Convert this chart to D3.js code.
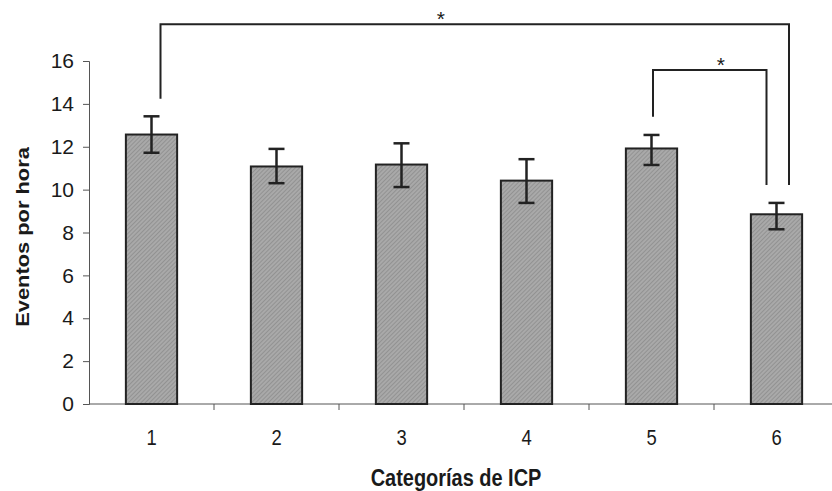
<!DOCTYPE html>
<html>
<head>
<meta charset="utf-8">
<script src="https://cdn.jsdelivr.net/npm/d3@7"></script>
<style>
  html, body { margin: 0; padding: 0; background: #fff; }
  svg { display: block; }
  text { font-family: Arial, "Liberation Sans", sans-serif; fill: #1a1a1a; }
</style>
</head>
<body>
<svg id="chart" width="832" height="491"></svg>
<script>
// ---- data ----
const categories = ["1", "2", "3", "4", "5", "6"];
const means      = [12.57, 11.08, 11.17, 10.42, 11.92, 8.85];
const errLow     = [11.72, 10.30, 10.12, 9.38, 11.15, 8.15];
const errHigh    = [13.42, 11.90, 12.16, 11.42, 12.55, 9.38];
const yTicks     = [0, 2, 4, 6, 8, 10, 12, 14, 16];
const bracketFrom   = ["1", "5"];
const bracketTo     = ["6", "6"];
const bracketTop    = [17.72, 15.58];
const bracketLeftEnd  = [14.24, 13.40];
const bracketRightEnd = [10.21, 10.21];
const bracketLabel  = ["*", "*"];
const xTitle = "Categorías de ICP";
const yTitle = "Eventos por hora";

// ---- layout ----
const svg = d3.select("#chart");
const left = 89, bandW = 125;
const x = d3.scaleBand().domain(categories)
  .range([left, left + bandW * categories.length]).paddingInner(0.59).paddingOuter(0.295);
const y = d3.scaleLinear().domain([0, 16]).range([404, 61]);

// texture pattern for bars
const defs = svg.append("defs");
const pat = defs.append("pattern").attr("id", "tex")
  .attr("patternUnits", "userSpaceOnUse").attr("width", 3).attr("height", 3)
  .attr("patternTransform", "rotate(45)");
pat.append("rect").attr("width", 3).attr("height", 3).attr("fill", "#a9a9a9");
pat.append("rect").attr("width", 1).attr("height", 3).attr("fill", "#929292");

// y axis
const yAxis = svg.append("g").attr("transform", `translate(${left},0)`)
  .call(d3.axisLeft(y).tickValues(yTicks).tickSize(6).tickPadding(9).tickFormat(d3.format("d")));
yAxis.attr("font-size", null).attr("font-family", null);
yAxis.select(".domain").attr("stroke", "#555").attr("stroke-width", 1);
yAxis.selectAll(".tick line").attr("stroke", "#555");
yAxis.selectAll(".tick text").attr("font-size", 21).attr("fill", "#1a1a1a")
  .attr("font-family", "Arial, 'Liberation Sans', sans-serif");

// x axis
const xAxisG = svg.append("g").attr("transform", `translate(0,${y(0)})`);
xAxisG.append("line").attr("x1", left).attr("x2", 832).attr("y1", 0).attr("y2", 0)
  .attr("stroke", "#555").attr("stroke-width", 1);
xAxisG.selectAll("line.tk").data(categories.slice(1)).join("line").attr("class", "tk")
  .attr("x1", d => x(d) - x.step() * x.paddingInner() / 2)
  .attr("x2", d => x(d) - x.step() * x.paddingInner() / 2)
  .attr("y1", 0).attr("y2", 6).attr("stroke", "#555");
xAxisG.selectAll("text.lbl").data(categories).join("text").attr("class", "lbl")
  .attr("transform", d => `translate(${x(d) + x.bandwidth() / 2},41) scale(0.92,1.1)`)
  .attr("text-anchor", "middle").attr("font-size", 20)
  .text(d => d);

// bars
const rows = categories.map((c, i) => ({ c, v: means[i], lo: errLow[i], hi: errHigh[i] }));
svg.append("g").selectAll("rect").data(rows).join("rect")
  .attr("x", d => x(d.c)).attr("width", x.bandwidth())
  .attr("y", d => y(d.v)).attr("height", d => y(0) - y(d.v))
  .attr("fill", "url(#tex)").attr("stroke", "#222").attr("stroke-width", 2);

// error bars
const eg = svg.append("g").attr("stroke", "#222").attr("stroke-width", 2.5);
const cx = d => x(d.c) + x.bandwidth() / 2;
eg.selectAll("line.v").data(rows).join("line").attr("class", "v")
  .attr("x1", cx).attr("x2", cx).attr("y1", d => y(d.hi)).attr("y2", d => y(d.lo));
eg.selectAll("line.h").data(rows).join("line").attr("class", "h")
  .attr("x1", d => cx(d) - 8).attr("x2", d => cx(d) + 8).attr("y1", d => y(d.hi)).attr("y2", d => y(d.hi));
eg.selectAll("line.l").data(rows).join("line").attr("class", "l")
  .attr("x1", d => cx(d) - 8).attr("x2", d => cx(d) + 8).attr("y1", d => y(d.lo)).attr("y2", d => y(d.lo));

// significance brackets
const legOffL = [9, 1.5], legOffR = [12.5, -10], starOff = [-34, 11];
const bg = svg.append("g");
bracketFrom.forEach((f, i) => {
  const x1 = x(f) + x.bandwidth() / 2 + legOffL[i];
  const x2 = x(bracketTo[i]) + x.bandwidth() / 2 + legOffR[i];
  const yt = y(bracketTop[i]);
  bg.append("path")
    .attr("d", `M${x1},${y(bracketLeftEnd[i])}V${yt}H${x2}V${y(bracketRightEnd[i])}`)
    .attr("fill", "none").attr("stroke", "#222").attr("stroke-width", 2);
  bg.append("text").attr("x", (x1 + x2) / 2 + starOff[i]).attr("y", yt + 2)
    .attr("text-anchor", "middle").attr("font-size", 21).text(bracketLabel[i]);
});

// titles
svg.append("text").attr("transform", "translate(456,486) scale(0.95,1.1)")
  .attr("text-anchor", "middle").attr("font-size", 21).attr("font-weight", "bold")
  .text(xTitle);
svg.append("text").attr("transform", "translate(29,237) rotate(-90) scale(1.15,1)")
  .attr("text-anchor", "middle").attr("font-size", 19).attr("font-weight", "bold")
  .text(yTitle);
</script>
</body>
</html>
